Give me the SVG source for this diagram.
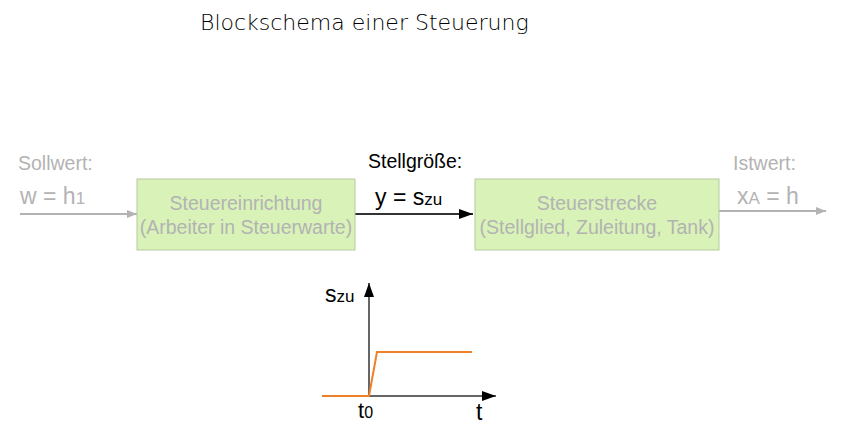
<svg xmlns="http://www.w3.org/2000/svg" width="854" height="438" viewBox="0 0 854 438">
<style>
text{font-family:"Liberation Sans",Arial,sans-serif}
.box{fill:#d9f2b8;stroke:#b5c9a0;stroke-width:1}
.bt{fill:#b3b3b3;font-size:19.5px;text-anchor:middle}
.gl{fill:#b3b3b3;font-size:19.5px}
.gv{fill:#b3b3b3;font-size:23px}
</style>
<defs>
<marker id="ag" markerWidth="10" markerHeight="8" refX="10" refY="4" orient="auto" markerUnits="userSpaceOnUse"><path d="M0,0L10,4L0,8z" fill="#b3b3b3"/></marker>
<marker id="ab" markerWidth="14" markerHeight="10" refX="14" refY="5" orient="auto" markerUnits="userSpaceOnUse"><path d="M0,0L14,5L0,10z" fill="#000"/></marker>
</defs>
<text x="200" y="30" font-size="22" fill="#000" style="font-family:'DejaVu Sans',sans-serif;font-weight:300">Blockschema einer Steuerung</text>
<g id="connectors">
<line x1="20" y1="214" x2="137" y2="214" stroke="#b3b3b3" stroke-width="2" marker-end="url(#ag)"/>
<line x1="355" y1="214" x2="473" y2="214" stroke="#333" stroke-width="2" marker-end="url(#ab)"/>
<line x1="719" y1="211" x2="826" y2="211" stroke="#b3b3b3" stroke-width="2" marker-end="url(#ag)"/>
</g>
<g id="n1"><rect class="box" x="137" y="179" width="218" height="71"/>
<text class="bt" x="246" y="210">Steuereinrichtung</text>
<text class="bt" x="246" y="234">(Arbeiter in Steuerwarte)</text></g>
<g id="n2"><rect class="box" x="475" y="179" width="244" height="71"/>
<text class="bt" x="597" y="210">Steuerstrecke</text>
<text class="bt" x="597" y="234">(Stellglied, Zuleitung, Tank)</text></g>
<g id="labels">
<text class="gl" x="18" y="170">Sollwert:</text>
<text class="gv" x="20" y="204">w = h<tspan font-size="17">1</tspan></text>
<text x="368" y="168" font-size="19.5" fill="#000">Stellgröße:</text>
<text x="375" y="205" font-size="23" fill="#000">y = s<tspan font-size="17">zu</tspan></text>
<text class="gl" x="733" y="170">Istwert:</text>
<text class="gv" x="737" y="204">x<tspan font-size="17">A</tspan> = h</text>
</g>
<g id="graph">
<line x1="369" y1="397" x2="369" y2="283" stroke="#666" stroke-width="2" marker-end="url(#ab)"/>
<line x1="322" y1="396" x2="496" y2="396" stroke="#666" stroke-width="2" marker-end="url(#ab)"/>
<polyline points="322,396 369,396 377,352 472,352" fill="none" stroke="#f07f2a" stroke-width="2"/>
<text x="325" y="302" font-size="23" fill="#000">s<tspan font-size="17">zu</tspan></text>
<text x="358" y="418" font-size="22" fill="#000">t<tspan font-size="16">0</tspan></text>
<text x="476" y="420" font-size="23" fill="#000">t</text>
</g>
</svg>
